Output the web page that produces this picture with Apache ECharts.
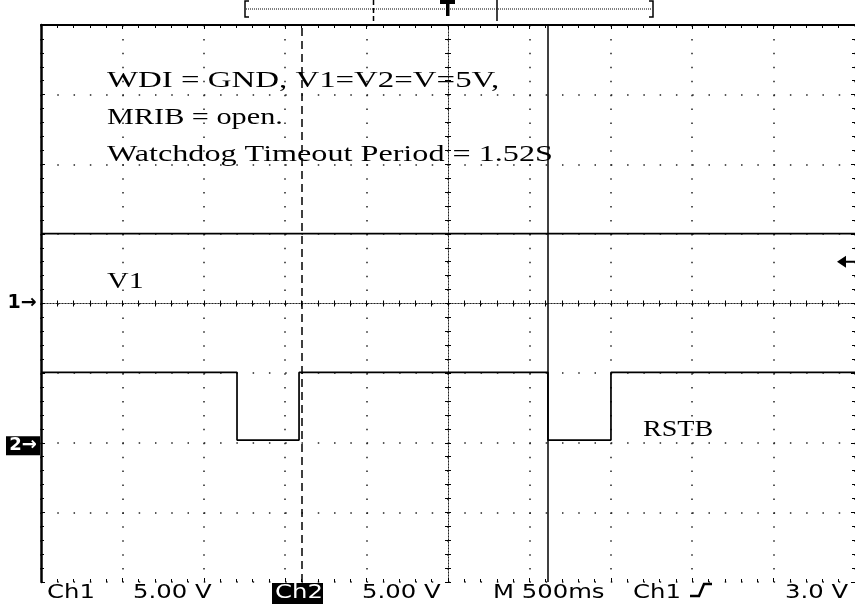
<!DOCTYPE html>
<html><head><meta charset="utf-8">
<script src="https://cdn.jsdelivr.net/npm/echarts@6/dist/echarts.min.js"></script>
<style>html,body{margin:0;padding:0;background:#fff}#c{width:855px;height:604px}</style>
</head><body><div id="c"></div>
<script>
// ---- data ----
const timeRangeMs = [0, 5000];          // 10 divisions x 500 ms
const timePerDivMs = 500;
const voltsPerDiv = 5;
const ch1OffsetDiv = 0;                  // ground marker "1" at centre line
const ch2OffsetDiv = -2;                 // ground marker "2" two divs below centre
const ch1Times = [0, 5000];
const ch1Volts = [5.02, 5.02];
const ch2Times = [0, 1204, 1204, 1585, 1585, 3114, 3114, 3501, 3501, 5000];
const ch2Volts = [5.05, 5.05, 0.19, 0.19, 5.05, 5.05, 0.19, 0.19, 5.05, 5.05];
const cursorTimes = [1603, 3114];
const triggerLevelV = 3.0;
const traceNames = ['V1', 'RSTB'];
const noteLines = ['WDI = GND, V1=V2=V=5V,', 'MRIB = open.', 'Watchdog Timeout Period = 1.52S'];
const readoutLabels = ['Ch1', '5.00 V', 'Ch2', '5.00 V', 'M 500ms', 'Ch1', '3.0 V'];
const channelMarks = ['1→', '2→'];

// ---- layout / style (not data) ----
const BLACK = '#000';
const DOT = '#222';
const divs = 4;
const ch1Range = [(-divs - ch1OffsetDiv) * voltsPerDiv, (divs - ch1OffsetDiv) * voltsPerDiv];
const ch2Range = [(-divs - ch2OffsetDiv) * voltsPerDiv, (divs - ch2OffsetDiv) * voltsPerDiv];

function zip(a, b) { return a.map((v, i) => [v, b[i]]); }

const tickStyle = { color: BLACK, width: 1 };
function divAxis(position, extra) {
  return Object.assign({
    type: 'value', position: position,
    axisLabel: { show: false },
    splitLine: { show: false }
  }, extra);
}

const chart = echarts.init(document.getElementById('c'), null, { renderer: 'canvas' });

const noteScale = [1.37, 1.26, 1.34];
const noteY = [81, 117.5, 155];
const readoutX = [47, 133, 275, 362, 493, 633, 785];

const graphics = [];
noteLines.forEach((t, i) => graphics.push({
  type: 'text', x: 107, y: noteY[i], scaleX: noteScale[i], silent: true,
  style: { text: t, fontSize: 24, fontFamily: 'Liberation Serif', fill: BLACK, align: 'left', verticalAlign: 'middle' }
}));
graphics.push({ type: 'text', x: 107, y: 282, scaleX: 1.25, silent: true,
  style: { text: traceNames[0], fontSize: 24, fontFamily: 'Liberation Serif', fill: BLACK, align: 'left', verticalAlign: 'middle' } });
graphics.push({ type: 'text', x: 643, y: 430, scaleX: 1.17, silent: true,
  style: { text: traceNames[1], fontSize: 24, fontFamily: 'Liberation Serif', fill: BLACK, align: 'left', verticalAlign: 'middle' } });
// readout box behind Ch2
graphics.push({ type: 'rect', shape: { x: 272, y: 583, width: 51, height: 21 }, style: { fill: BLACK }, silent: true });
readoutLabels.forEach((t, i) => graphics.push({
  type: 'text', x: readoutX[i], y: 593, scaleX: 1.28, silent: true, z: 10,
  style: { text: t, fontSize: 19, fontFamily: 'DejaVu Sans', fill: i === 2 ? '#fff' : BLACK, align: 'left', verticalAlign: 'middle' }
}));
// trigger slope symbol
graphics.push({ type: 'polyline', shape: { points: [[690, 596], [699, 596], [704, 584], [712, 584]] },
  style: { stroke: BLACK, lineWidth: 2.5, fill: null }, silent: true });
// record-view bar at top
graphics.push({ type: 'line', shape: { x1: 246, y1: 9, x2: 652, y2: 9 }, style: { stroke: BLACK, lineWidth: 1, lineDash: [1, 1] }, silent: true });
graphics.push({ type: 'polyline', shape: { points: [[249, 1], [245, 1], [245, 17], [249, 17]] }, style: { stroke: BLACK, lineWidth: 1.5, fill: null }, silent: true });
graphics.push({ type: 'polyline', shape: { points: [[649, 1], [653, 1], [653, 17], [649, 17]] }, style: { stroke: BLACK, lineWidth: 1.5, fill: null }, silent: true });
graphics.push({ type: 'rect', shape: { x: 440, y: 0, width: 15, height: 4 }, style: { fill: BLACK }, silent: true });
graphics.push({ type: 'rect', shape: { x: 446, y: 0, width: 3.5, height: 16 }, style: { fill: BLACK }, silent: true });
graphics.push({ type: 'line', shape: { x1: 373.5, y1: 0, x2: 373.5, y2: 21 }, style: { stroke: BLACK, lineWidth: 1.5, lineDash: [5, 3] }, silent: true });
graphics.push({ type: 'line', shape: { x1: 497, y1: 0, x2: 497, y2: 21 }, style: { stroke: BLACK, lineWidth: 1.5 }, silent: true });

const option = {
  animation: false,
  backgroundColor: '#fff',
  grid: { left: 41, top: 25, right: 0, bottom: 22, outerBoundsMode: 'none', containLabel: false },
  xAxis: [
    { // 0: time axis, top border + vertical graticule
      type: 'value', position: 'top', min: timeRangeMs[0], max: timeRangeMs[1], interval: timePerDivMs,
      axisLine: { show: true, onZero: false, lineStyle: { color: BLACK, width: 2 } },
      axisTick: { show: true, inside: true, length: 4, lineStyle: tickStyle },
      minorTick: { show: true, splitNumber: 5, length: 3, lineStyle: tickStyle },
      axisLabel: { show: false },
      splitLine: { show: true, lineStyle: { color: DOT, width: 1.5, type: [1.5, 12.425] } }
    },
    divAxis('bottom', { // 1: bottom edge ticks, divisions
      min: -5, max: 5, interval: 1,
      axisLine: { show: false, onZero: false },
      axisTick: { show: true, inside: true, length: 4, lineStyle: tickStyle },
      minorTick: { show: true, splitNumber: 5, length: 3, lineStyle: tickStyle }
    }),
    divAxis('top', { // 2: horizontal centre line, ticks up
      min: -5, max: 5, interval: 1,
      axisLine: { show: true, onZero: true, onZeroAxisIndex: 0, lineStyle: { color: DOT, width: 1, type: [1, 2] } },
      axisTick: { show: true, inside: false, length: 3, lineStyle: tickStyle },
      minorTick: { show: true, splitNumber: 5, length: 3, lineStyle: tickStyle }
    }),
    divAxis('bottom', { // 3: horizontal centre line, ticks down
      min: -5, max: 5, interval: 1,
      axisLine: { show: true, onZero: true, onZeroAxisIndex: 0, lineStyle: { color: DOT, width: 1, type: [1, 2] } },
      axisTick: { show: true, inside: false, length: 3, lineStyle: tickStyle },
      minorTick: { show: true, splitNumber: 5, length: 3, lineStyle: tickStyle }
    })
  ],
  yAxis: [
    divAxis('left', { // 0: left border + horizontal graticule
      min: -divs, max: divs, interval: 1,
      axisLine: { show: true, onZero: false, lineStyle: { color: BLACK, width: 2.5 } },
      axisTick: { show: true, inside: true, length: 4, lineStyle: tickStyle },
      minorTick: { show: true, splitNumber: 5, length: 3, lineStyle: tickStyle },
      splitLine: { show: true, lineStyle: { color: DOT, width: 1.5, type: [1.5, 14.78] } }
    }),
    divAxis('right', { // 1: right edge ticks
      min: -divs, max: divs, interval: 1,
      axisLine: { show: false, onZero: false },
      axisTick: { show: true, inside: true, length: 4, lineStyle: tickStyle },
      minorTick: { show: true, splitNumber: 5, length: 3, lineStyle: tickStyle }
    }),
    divAxis('left', { // 2: vertical centre line, ticks left
      min: -divs, max: divs, interval: 1,
      axisLine: { show: true, onZero: true, onZeroAxisIndex: 1, lineStyle: { color: DOT, width: 1, type: [1, 2] } },
      axisTick: { show: true, inside: false, length: 3, lineStyle: tickStyle },
      minorTick: { show: true, splitNumber: 5, length: 3, lineStyle: tickStyle }
    }),
    divAxis('right', { // 3: vertical centre line, ticks right
      min: -divs, max: divs, interval: 1,
      axisLine: { show: true, onZero: true, onZeroAxisIndex: 1, lineStyle: { color: DOT, width: 1, type: [1, 2] } },
      axisTick: { show: true, inside: false, length: 3, lineStyle: tickStyle },
      minorTick: { show: true, splitNumber: 5, length: 3, lineStyle: tickStyle }
    }),
    { type: 'value', show: false, min: ch1Range[0], max: ch1Range[1], axisLine: { onZero: false } }, // 4: Ch1 volts
    { type: 'value', show: false, min: ch2Range[0], max: ch2Range[1], axisLine: { onZero: false } }  // 5: Ch2 volts
  ],
  series: [
    {
      name: 'Ch1', type: 'line', xAxisIndex: 0, yAxisIndex: 4,
      data: zip(ch1Times, ch1Volts), symbol: 'none', silent: true,
      lineStyle: { color: BLACK, width: 1.7 },
      markPoint: {
        silent: true, animation: false,
        data: [
          { coord: [timeRangeMs[0], 0], symbol: 'rect', symbolSize: [34, 19], symbolOffset: [-19, 0],
            itemStyle: { color: 'rgba(0,0,0,0)' },
            label: { show: true, position: 'inside', formatter: channelMarks[0], color: BLACK, fontSize: 19, fontFamily: 'DejaVu Sans', fontWeight: 'bold' } },
          { coord: [timeRangeMs[1], triggerLevelV], symbol: 'path://M0,6L9,0L9,12Z M9,5L18,5L18,7L9,7Z', symbolSize: [18, 12], symbolOffset: [-9, 0],
            itemStyle: { color: BLACK }, label: { show: false } }
        ]
      }
    },
    {
      name: 'Ch2', type: 'line', xAxisIndex: 0, yAxisIndex: 5,
      data: zip(ch2Times, ch2Volts), symbol: 'none', silent: true,
      lineStyle: { color: BLACK, width: 1.7 },
      markPoint: {
        silent: true, animation: false,
        data: [
          { coord: [timeRangeMs[0], 0], symbol: 'rect', symbolSize: [34, 19], symbolOffset: [-18, 3],
            itemStyle: { color: BLACK },
            label: { show: true, position: 'inside', formatter: channelMarks[1], color: '#fff', fontSize: 18, fontFamily: 'DejaVu Sans', fontWeight: 'bold' } }
        ]
      },
      markLine: {
        silent: true, animation: false, symbol: ['none', 'none'], label: { show: false },
        data: [
          { xAxis: cursorTimes[0], lineStyle: { color: BLACK, width: 1.5, type: [8, 5] } },
          { xAxis: cursorTimes[1], lineStyle: { color: BLACK, width: 1.5, type: 'solid' } }
        ]
      }
    }
  ],
  graphic: graphics
};
chart.setOption(option);
</script>
</body></html>
